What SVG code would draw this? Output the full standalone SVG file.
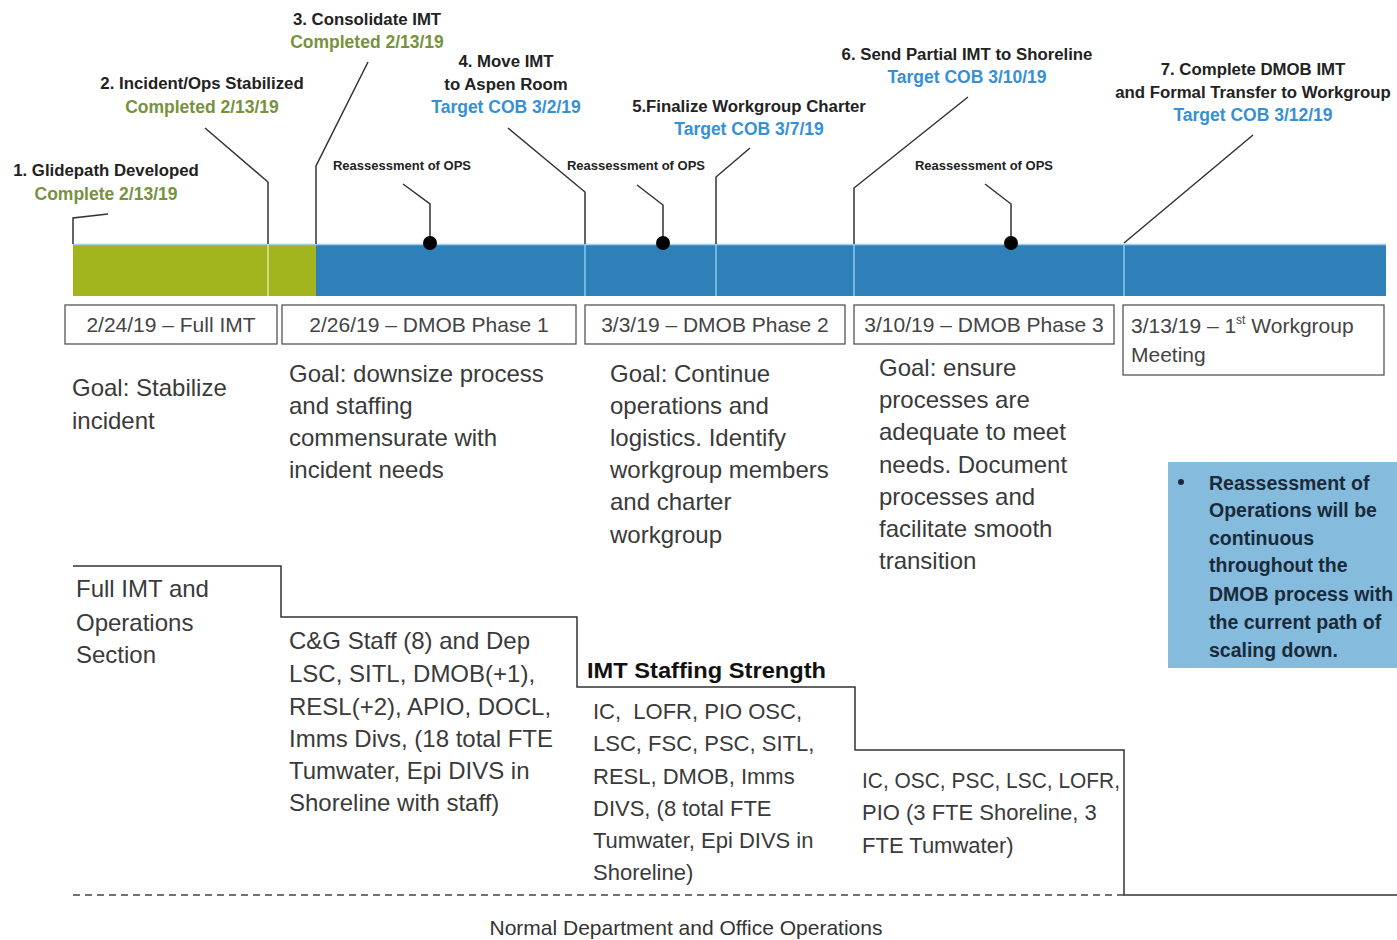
<svg xmlns="http://www.w3.org/2000/svg" width="1397" height="940" viewBox="0 0 1397 940">
<style>
text{font-family:"Liberation Sans",Arial,sans-serif;}
.ms{font-size:16.8px;font-weight:bold;fill:#222;text-anchor:middle;}
.gr{font-size:17.5px;font-weight:bold;fill:#76923c;text-anchor:middle;}
.bl{font-size:17.5px;font-weight:bold;fill:#3590d6;text-anchor:middle;}
.re{font-size:13px;font-weight:bold;fill:#222;text-anchor:middle;}
.dt{font-size:21px;fill:#444;text-anchor:middle;}
.gl{font-size:24px;fill:#3a3a3a;}
.st{font-size:24px;fill:#3a3a3a;}
.sn{font-size:22px;fill:#3a3a3a;}
.nt{font-size:19.5px;font-weight:bold;fill:#1a2a3a;}
.ld{fill:none;stroke:#333;stroke-width:1.5;}
.bx{fill:#fff;stroke:#555;stroke-width:1.3;}
.sep{stroke-width:1.5;}
</style>
<rect width="1397" height="940" fill="#fff"/>

<g id="bar">
<rect x="73" y="244" width="243" height="52" fill="#a2b51e"/>
<rect x="316" y="244" width="1070" height="52" fill="#2f80b9"/>
<line x1="73" y1="244.5" x2="1386" y2="244.5" stroke="#9ecfee" stroke-width="1.5"/>
<line class="sep" x1="268" y1="244" x2="268" y2="296" stroke="#e2e9a0"/>
<line class="sep" x1="585" y1="244" x2="585" y2="296" stroke="#8cc8ee"/>
<line class="sep" x1="716" y1="244" x2="716" y2="296" stroke="#8cc8ee"/>
<line class="sep" x1="854" y1="244" x2="854" y2="296" stroke="#8cc8ee"/>
<line class="sep" x1="1124" y1="244" x2="1124" y2="296" stroke="#8cc8ee"/>
</g>

<g id="connectors">
<polyline class="ld" points="108,214 73,218 73,244"/>
<polyline class="ld" points="205,128 268,182 268,244"/>
<polyline class="ld" points="368,62 316,166 316,244"/>
<polyline class="ld" points="508,128 585,192 585,244"/>
<polyline class="ld" points="750,148 716,177 716,244"/>
<polyline class="ld" points="968,97 854,188 854,244"/>
<polyline class="ld" points="1253,135 1124,243"/>
<polyline class="ld" points="403,184 430,204 430,243"/>
<polyline class="ld" points="637,185 663,205 663,243"/>
<polyline class="ld" points="985,184 1011,204 1011,243"/>
<circle cx="430" cy="243" r="7" fill="#000"/>
<circle cx="663" cy="243" r="7" fill="#000"/>
<circle cx="1011" cy="243" r="7" fill="#000"/>
<polyline class="ld" points="73,566 281,566 281,617 577,617 577,687 855,687 855,750 1124,750 1124,895 1397,895"/>
<line x1="73" y1="895" x2="1124" y2="895" stroke="#444" stroke-width="1.3" stroke-dasharray="7,5"/>
</g>

<g id="m1"><text class="ms" x="106" y="176">1. Glidepath Developed</text><text class="gr" x="106" y="200">Complete 2/13/19</text></g>
<g id="m2"><text class="ms" x="202" y="89">2. Incident/Ops Stabilized</text><text class="gr" x="202" y="113">Completed 2/13/19</text></g>
<g id="m3"><text class="ms" x="367" y="25">3. Consolidate IMT</text><text class="gr" x="367" y="48">Completed 2/13/19</text></g>
<g id="m4"><text class="ms" x="506" y="67">4. Move IMT</text><text class="ms" x="506" y="90">to Aspen Room</text><text class="bl" x="506" y="113">Target COB 3/2/19</text></g>
<g id="m5"><text class="ms" x="749" y="112">5.Finalize Workgroup Charter</text><text class="bl" x="749" y="135">Target COB 3/7/19</text></g>
<g id="m6"><text class="ms" x="967" y="60">6. Send Partial IMT  to Shoreline</text><text class="bl" x="967" y="83">Target COB 3/10/19</text></g>
<g id="m7"><text class="ms" x="1253" y="75">7. Complete DMOB IMT</text><text class="ms" x="1253" y="98">and Formal Transfer to Workgroup</text><text class="bl" x="1253" y="121">Target COB 3/12/19</text></g>

<g id="r1"><text class="re" x="402" y="170">Reassessment of OPS</text></g>
<g id="r2"><text class="re" x="636" y="170">Reassessment of OPS</text></g>
<g id="r3"><text class="re" x="984" y="170">Reassessment of OPS</text></g>

<g id="d1"><rect class="bx" x="65" y="305" width="212" height="39"/><text class="dt" x="171" y="332">2/24/19 – Full IMT</text></g>
<g id="d2"><rect class="bx" x="282" y="305" width="294" height="39"/><text class="dt" x="429" y="332">2/26/19 – DMOB Phase 1</text></g>
<g id="d3"><rect class="bx" x="585" y="305" width="260" height="39"/><text class="dt" x="715" y="332">3/3/19 – DMOB Phase 2</text></g>
<g id="d4"><rect class="bx" x="854" y="305" width="260" height="39"/><text class="dt" x="984" y="332">3/10/19 – DMOB Phase 3</text></g>
<g id="d5"><rect class="bx" x="1123" y="305" width="261" height="70"/><text class="dt" x="1131" y="333" style="text-anchor:start">3/13/19 – 1<tspan font-size="12" dy="-9">st</tspan><tspan dy="9"> Workgroup</tspan></text><text class="dt" x="1131" y="362" style="text-anchor:start">Meeting</text></g>

<g id="g1"><text class="gl" x="72" y="396">Goal: Stabilize</text><text class="gl" x="72" y="429">incident</text></g>
<g id="g2"><text class="gl" x="289" y="382">Goal: downsize process</text><text class="gl" x="289" y="414">and staffing</text><text class="gl" x="289" y="446">commensurate with</text><text class="gl" x="289" y="478">incident needs</text></g>
<g id="g3"><text class="gl" x="610" y="382">Goal: Continue</text><text class="gl" x="610" y="414">operations and</text><text class="gl" x="610" y="446">logistics. Identify</text><text class="gl" x="610" y="478">workgroup members</text><text class="gl" x="610" y="510">and charter</text><text class="gl" x="610" y="543">workgroup</text></g>
<g id="g4"><text class="gl" x="879" y="376">Goal: ensure</text><text class="gl" x="879" y="408">processes are</text><text class="gl" x="879" y="440">adequate to meet</text><text class="gl" x="879" y="473">needs. Document</text><text class="gl" x="879" y="505">processes and</text><text class="gl" x="879" y="537">facilitate smooth</text><text class="gl" x="879" y="569">transition</text></g>

<g id="note"><rect x="1168" y="462" width="229" height="206" fill="#85bbdd"/>
<circle cx="1181" cy="482" r="3" fill="#1a2a3a"/>
<text class="nt" x="1209" y="490">Reassessment of</text><text class="nt" x="1209" y="517">Operations will be</text><text class="nt" x="1209" y="545">continuous</text><text class="nt" x="1209" y="572">throughout the</text><text class="nt" x="1209" y="601">DMOB process with</text><text class="nt" x="1209" y="629">the current path of</text><text class="nt" x="1209" y="657">scaling down.</text></g>

<g id="s1"><text class="st" x="76" y="597">Full IMT and</text><text class="st" x="76" y="631">Operations</text><text class="st" x="76" y="663">Section</text></g>
<g id="s2"><text class="st" x="289" y="649">C&amp;G Staff (8) and Dep</text><text class="st" x="289" y="682">LSC, SITL, DMOB(+1),</text><text class="st" x="289" y="715">RESL(+2), APIO, DOCL,</text><text class="st" x="289" y="747">Imms Divs, (18 total FTE</text><text class="st" x="289" y="779">Tumwater, Epi DIVS in</text><text class="st" x="289" y="811">Shoreline with staff)</text></g>
<g id="s3"><text x="587" y="678" textLength="239" lengthAdjust="spacingAndGlyphs" style="font-size:22px;font-weight:bold;fill:#111">IMT Staffing Strength</text><text class="sn" x="593" y="719" xml:space="preserve">IC,  LOFR, PIO OSC,</text><text class="sn" x="593" y="751">LSC, FSC, PSC, SITL,</text><text class="sn" x="593" y="784">RESL, DMOB, Imms</text><text class="sn" x="593" y="816">DIVS, (8 total FTE</text><text class="sn" x="593" y="848">Tumwater, Epi DIVS in</text><text class="sn" x="593" y="880">Shoreline)</text></g>
<g id="s4"><text class="sn" x="862" y="788" textLength="258" lengthAdjust="spacingAndGlyphs">IC, OSC, PSC, LSC, LOFR,</text><text class="sn" x="862" y="820">PIO (3 FTE Shoreline, 3</text><text class="sn" x="862" y="853">FTE Tumwater)</text></g>
<g id="base"><text x="686" y="935" style="font-size:21px;fill:#333;text-anchor:middle">Normal Department and Office Operations</text></g>
</svg>
